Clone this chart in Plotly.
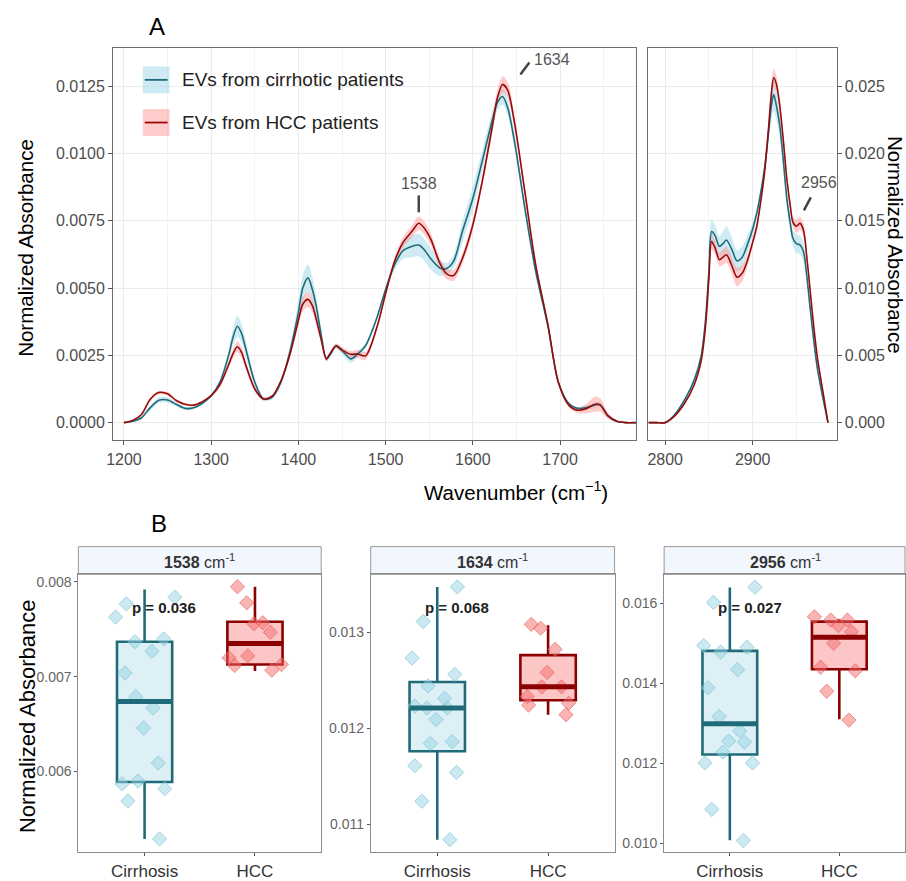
import numpy as np
import plotly.graph_objects as go

W, H = 906, 881
def fx(p): return p / W
def fy(p): return 1 - p / H

FONT = "Liberation Sans, Arial, sans-serif"

# ---------------- Panel A data: mean spectra and SD (fingerprint region) ----------------
wn_fp = [1200, 1210, 1220, 1230, 1240, 1250, 1260, 1270, 1280, 1290,
         1300, 1310, 1320, 1325, 1330, 1335, 1340, 1350, 1360, 1370,
         1380, 1390, 1400, 1405, 1411, 1416, 1420, 1426, 1432, 1437,
         1443, 1450, 1460, 1468, 1477, 1490, 1500, 1510, 1520, 1530,
         1538, 1545, 1552, 1562, 1570, 1578, 1588, 1600, 1611, 1622,
         1628, 1634, 1640, 1648, 1660, 1672, 1686, 1698, 1710, 1720,
         1730, 1740, 1746, 1755, 1765, 1775, 1787]
cir_fp_mean = [0, 0.00005, 0.00018, 0.00055, 0.00083, 0.00084, 0.00068, 0.00053, 0.00055, 0.00072,
               0.00100, 0.00150, 0.00250, 0.00317, 0.00358, 0.00330, 0.00270, 0.00150, 0.00088, 0.00095,
               0.00150, 0.00260, 0.00410, 0.00500, 0.00538, 0.00495, 0.00440, 0.00329, 0.00237, 0.00256,
               0.00285, 0.00268, 0.00237, 0.00255, 0.00286, 0.00390, 0.00495, 0.00585, 0.00639, 0.00655,
               0.00660, 0.00640, 0.00608, 0.00575, 0.00573, 0.00600, 0.00710, 0.00833, 0.00975, 0.01120,
               0.01188, 0.01212, 0.01170, 0.01040, 0.00790, 0.00563, 0.00360, 0.00150, 0.00071, 0.00053,
               0.00056, 0.00066, 0.00066, 0.00025, 0.00005, 0, 0]
hcc_fp_mean = [0, 0.00008, 0.00030, 0.00086, 0.00112, 0.00107, 0.00082, 0.00068, 0.00065, 0.00078,
               0.00100, 0.00140, 0.00215, 0.00256, 0.00282, 0.00260, 0.00210, 0.00125, 0.00088, 0.00098,
               0.00155, 0.00250, 0.00380, 0.00440, 0.00458, 0.00435, 0.00390, 0.00310, 0.00237, 0.00260,
               0.00285, 0.00270, 0.00254, 0.00255, 0.00248, 0.00354, 0.00480, 0.00597, 0.00670, 0.00710,
               0.00741, 0.00720, 0.00680, 0.00594, 0.00553, 0.00547, 0.00610, 0.00735, 0.00900, 0.01095,
               0.01205, 0.01257, 0.01235, 0.01110, 0.00850, 0.00587, 0.00365, 0.00150, 0.00065, 0.00046,
               0.00052, 0.00068, 0.00066, 0.00025, 0.00005, 0, 0]
cir_fp_sd = [0, 0.00003, 0.00006, 0.0001, 0.0001, 0.0001, 0.00008, 0.00006, 0.00005, 0.00005,
             0.00006, 0.0001, 0.0002, 0.0003, 0.0004, 0.00035, 0.0003, 0.00015, 0.00008, 0.00008,
             0.0001, 0.0002, 0.0004, 0.0005, 0.0005, 0.00045, 0.0004, 0.0002, 0.0001, 0.0001,
             0.0001, 0.00012, 0.00015, 0.00012, 0.0001, 0.0001, 0.00012, 0.0002, 0.0003, 0.0004,
             0.00042, 0.0004, 0.0004, 0.0003, 0.0002, 0.00025, 0.0004, 0.00045, 0.0004, 0.00035,
             0.0003, 0.0003, 0.0003, 0.00025, 0.0002, 0.00015, 0.0001, 0.00008, 0.00005, 0.00005,
             0.00008, 0.0001, 0.0001, 0.00006, 0.00003, 0, 0]
hcc_fp_sd = [0, 0.00003, 0.00005, 0.00006, 0.00006, 0.00006, 0.00005, 0.00004, 0.00004, 0.00004,
             0.00005, 0.00008, 0.00012, 0.00018, 0.0002, 0.0002, 0.00015, 0.0001, 0.00006, 0.00006,
             0.00008, 0.00012, 0.0002, 0.00025, 0.00028, 0.00025, 0.0002, 0.00012, 0.00008, 0.00008,
             0.00008, 0.0001, 0.00012, 0.00015, 0.00015, 0.00012, 0.0001, 0.00015, 0.0002, 0.00022,
             0.00025, 0.00025, 0.00022, 0.0002, 0.0002, 0.0002, 0.0002, 0.0002, 0.0002, 0.00025,
             0.0003, 0.0003, 0.0003, 0.00025, 0.0002, 0.00015, 0.0001, 0.00008, 0.00008, 0.0001,
             0.00018, 0.00028, 0.00025, 0.00012, 0.00004, 0, 0]

# ---------------- Panel A data: C-H stretching region ----------------
wn_ch = [2781, 2790, 2800, 2810, 2822, 2833, 2841, 2846, 2850, 2853,
         2857, 2862, 2866, 2870, 2876, 2882, 2888, 2894, 2900, 2905,
         2910, 2914, 2918, 2921, 2924, 2927, 2931, 2935, 2939, 2943,
         2946, 2950, 2954, 2958, 2962, 2966, 2970, 2974, 2980, 2986]
cir_ch_mean = [0, 0, 0, 0.00053, 0.00167, 0.00314, 0.00490, 0.00756, 0.01125, 0.01420,
               0.01390, 0.01310, 0.01330, 0.01358, 0.01290, 0.01203, 0.01230, 0.01325, 0.01440, 0.01567,
               0.01740, 0.01911, 0.02150, 0.02340, 0.02439, 0.02360, 0.02205, 0.01950, 0.01665, 0.01480,
               0.01370, 0.01330, 0.01321, 0.01272, 0.01080, 0.00830, 0.00600, 0.00400, 0.00192, 0]
hcc_ch_mean = [0, 0, 0, 0.00044, 0.00142, 0.00278, 0.00455, 0.00707, 0.01076, 0.01346,
               0.01300, 0.01211, 0.01230, 0.01248, 0.01170, 0.01081, 0.01110, 0.01205, 0.01340, 0.01469,
               0.01680, 0.01886, 0.02180, 0.02420, 0.02565, 0.02520, 0.02353, 0.02100, 0.01813, 0.01610,
               0.01490, 0.01460, 0.01481, 0.01432, 0.01220, 0.00960, 0.00700, 0.00480, 0.00241, 0]
cir_ch_sd = [0, 0, 0, 0.00005, 0.0001, 0.00015, 0.0002, 0.0003, 0.0006, 0.0009,
             0.0008, 0.0007, 0.0009, 0.001, 0.0009, 0.0008, 0.0008, 0.0007, 0.0005, 0.0004,
             0.0004, 0.0005, 0.0008, 0.0011, 0.0012, 0.0011, 0.0009, 0.0007, 0.0006, 0.0006,
             0.0006, 0.0007, 0.0007, 0.0007, 0.0005, 0.0004, 0.0003, 0.0002, 0.0001, 0]
hcc_ch_sd = [0, 0, 0, 0.00004, 0.00008, 0.0001, 0.00015, 0.0002, 0.0004, 0.0006,
             0.0005, 0.0005, 0.0006, 0.0006, 0.0006, 0.0007, 0.0006, 0.0004, 0.0003, 0.0003,
             0.0003, 0.0004, 0.0005, 0.0006, 0.0007, 0.0006, 0.0005, 0.0004, 0.0004, 0.0004,
             0.0004, 0.0005, 0.0005, 0.0005, 0.0004, 0.0003, 0.0002, 0.00015, 0.0001, 0]

legend_labels = ["EVs from cirrhotic patients", "EVs from HCC patients"]
peak_labels = ["1538", "1634", "2956"]

# ---------------- Panel B data ----------------
groups = ["Cirrhosis", "HCC"]
bands = ["1538", "1634", "2956"]
p_values = ["p = 0.036", "p = 0.068", "p = 0.027"]

cir_1538 = [0.00777, 0.00784, 0.00763, 0.00737, 0.00740, 0.00727, 0.00704, 0.00679,
            0.00667, 0.00646, 0.00609, 0.00590, 0.00587, 0.00582, 0.00569, 0.00529]
hcc_1538 = [0.00795, 0.00778, 0.00756, 0.00747, 0.00757, 0.00720, 0.00722, 0.00713, 0.00707, 0.00712]
cir_1634 = [0.01347, 0.01311, 0.01273, 0.01256, 0.01244, 0.01231, 0.01223, 0.01221,
            0.01221, 0.01209, 0.01184, 0.01186, 0.01161, 0.01154, 0.01124, 0.01084]
hcc_1634 = [0.01304, 0.01308, 0.01282, 0.01258, 0.01243, 0.01243, 0.01233, 0.01224, 0.01226, 0.01214]
cir_2956 = [0.01640, 0.01602, 0.01494, 0.01490, 0.01478, 0.01434, 0.01389, 0.01317,
            0.01281, 0.01256, 0.01253, 0.01228, 0.01201, 0.01201, 0.01085, 0.01007]
hcc_2956 = [0.01529, 0.01558, 0.01566, 0.01544, 0.01558, 0.01500, 0.01440, 0.01431, 0.01380, 0.01308]

# box statistics [Cirrhosis, HCC] per band
box_lower = {"1538": [0.00529, 0.00706], "1634": [0.01084, 0.01214], "2956": [0.01008, 0.01310]}
box_q1 = {"1538": [0.00589, 0.00713], "1634": [0.01176, 0.01229], "2956": [0.01222, 0.01435]}
box_med = {"1538": [0.00674, 0.00735], "1634": [0.01221, 0.01243], "2956": [0.01299, 0.01515]}
box_q3 = {"1538": [0.00737, 0.00758], "1634": [0.01248, 0.01276], "2956": [0.01481, 0.01554]}
box_upper = {"1538": [0.00792, 0.00795], "1634": [0.01347, 0.01307], "2956": [0.01639, 0.01560]}
points = {"1538": [cir_1538, hcc_1538], "1634": [cir_1634, hcc_1634], "2956": [cir_2956, hcc_2956]}

# ---------------- styles ----------------
CIR_LINE = "#1f6b7a"
HCC_LINE = "#980b0b"
CIR_RIB = "rgba(173,222,235,0.6)"
HCC_RIB = "rgba(255,140,140,0.45)"
CIR_BOX_FILL = "#dcf0f6"
HCC_BOX_FILL = "#fcc6c6"
CIR_PT = "rgba(150,212,226,0.5)"
CIR_PT_LINE = "rgba(120,190,208,0.6)"
HCC_PT = "rgba(245,105,105,0.5)"
HCC_PT_LINE = "rgba(230,90,90,0.6)"

fig = go.Figure()

def ribbon(x, mean, sd, color, xa, ya):
    m = np.array(mean); s = np.array(sd)
    fig.add_trace(go.Scatter(x=x, y=m + s, mode="lines", line=dict(width=0, shape="spline", smoothing=0.8),
                             xaxis=xa, yaxis=ya, showlegend=False, hoverinfo="skip"))
    fig.add_trace(go.Scatter(x=x, y=m - s, mode="lines", line=dict(width=0, shape="spline", smoothing=0.8),
                             fill="tonexty", fillcolor=color, xaxis=xa, yaxis=ya,
                             showlegend=False, hoverinfo="skip"))

def meanline(x, mean, color, xa, ya):
    fig.add_trace(go.Scatter(x=x, y=mean, mode="lines", line=dict(width=1.6, color=color, shape="spline", smoothing=0.8),
                             xaxis=xa, yaxis=ya, showlegend=False))

ribbon(wn_fp, cir_fp_mean, cir_fp_sd, CIR_RIB, "x", "y")
ribbon(wn_fp, hcc_fp_mean, hcc_fp_sd, HCC_RIB, "x", "y")
meanline(wn_fp, cir_fp_mean, CIR_LINE, "x", "y")
meanline(wn_fp, hcc_fp_mean, HCC_LINE, "x", "y")
ribbon(wn_ch, cir_ch_mean, cir_ch_sd, CIR_RIB, "x2", "y2")
ribbon(wn_ch, hcc_ch_mean, hcc_ch_sd, HCC_RIB, "x2", "y2")
meanline(wn_ch, cir_ch_mean, CIR_LINE, "x2", "y2")
meanline(wn_ch, hcc_ch_mean, HCC_LINE, "x2", "y2")

# ---------------- Box plots ----------------
shapes = []
box_cols = [(CIR_LINE, CIR_BOX_FILL, CIR_PT, CIR_PT_LINE), ("#8b0000", HCC_BOX_FILL, HCC_PT, HCC_PT_LINE)]
for bi, band in enumerate(bands):
    xa = "x%d" % (bi + 3); ya = "y%d" % (bi + 3)
    for gi, g in enumerate(groups):
        lc, fc, pc, plc = box_cols[gi]
        fig.add_trace(go.Box(x=[g], q1=[box_q1[band][gi]], median=[box_med[band][gi]],
                             q3=[box_q3[band][gi]], lowerfence=[box_lower[band][gi]],
                             upperfence=[box_upper[band][gi]], width=0.5, whiskerwidth=0,
                             line=dict(color=lc, width=2.6), fillcolor=fc, boxpoints=False,
                             xaxis=xa, yaxis=ya, showlegend=False, hoverinfo="skip"))
        shapes.append(dict(type="line", xref=xa, yref=ya, x0=gi - 0.25, x1=gi + 0.25,
                           y0=box_med[band][gi], y1=box_med[band][gi],
                           line=dict(color=lc, width=5), layer="above"))
    for gi, g in enumerate(groups):
        lc, fc, pc, plc = box_cols[gi]
        vals = points[band][gi]
        fig.add_trace(go.Box(x=[g] * len(vals), y=vals, boxpoints="all", jitter=1, pointpos=0,
                             width=0.62, line=dict(width=0, color="rgba(0,0,0,0)"),
                             fillcolor="rgba(0,0,0,0)",
                             marker=dict(symbol="diamond", size=11, color=pc, line=dict(color=plc, width=1)),
                             xaxis=xa, yaxis=ya, showlegend=False, hoverinfo="skip"))

# ---------------- Layout ----------------
TICKF = dict(family=FONT, size=16, color="#4d4d4d")
top_common = dict(showline=True, mirror=True, linecolor="#6e6e6e", linewidth=1, ticks="outside",
                  ticklen=4, tickcolor="#555", showgrid=True, gridcolor="#ebebeb", gridwidth=1,
                  zeroline=False, tickfont=TICKF)

y_top = [fy(444), fy(48)]
layout = dict(
    width=W, height=H, margin=dict(l=0, r=0, t=0, b=0),
    paper_bgcolor="white", plot_bgcolor="white", boxmode="overlay", showlegend=False,
    font=dict(family=FONT),
    xaxis=dict(domain=[fx(107), fx(635)], anchor="y", range=[1187.5, 1787.5], tick0=1200, dtick=100,
               minor=dict(dtick=50, showgrid=True, gridcolor="#f3f3f3", ticks=""), **top_common),
    yaxis=dict(domain=y_top, anchor="x", range=[-0.000664, 0.013938], tick0=0, dtick=0.0025,
               tickformat=".4f", **top_common),
    xaxis2=dict(domain=[fx(647), fx(837)], anchor="y2", range=[2780.7, 2995.9], tick0=2800, dtick=100,
                minor=dict(dtick=50, showgrid=True, gridcolor="#f3f3f3", ticks=""), **top_common),
    yaxis2=dict(domain=y_top, anchor="x2", side="right", range=[-0.001327, 0.027876], tick0=0, dtick=0.005,
                tickformat=".3f", **top_common),
)

bot_common = dict(showline=True, mirror=True, linecolor="#8c8c8c", linewidth=1, ticks="outside",
                  ticklen=3, tickcolor="#555", showgrid=False, zeroline=False)
panels_x = [(72, 317), (367, 613), (663, 908)]
y_ranges = [[0.00515, 0.00808], [0.01071, 0.0136], [0.00978, 0.01672]]
y_dticks = [0.001, 0.001, 0.002]
y_bot = [fy(859), fy(579)]
for bi in range(3):
    n = bi + 3
    x0, x1 = panels_x[bi]
    layout["xaxis%d" % n] = dict(domain=[fx(x0), min(1.0, fx(x1))], anchor="y%d" % n, type="category",
                                 categoryorder="array", categoryarray=groups, range=[-0.6, 1.6],
                                 tickfont=dict(family=FONT, size=17, color="#333"), **bot_common)
    layout["yaxis%d" % n] = dict(domain=y_bot, anchor="x%d" % n, range=y_ranges[bi], dtick=y_dticks[bi],
                                 tickformat=".3f", tickfont=dict(family=FONT, size=14, color="#666"),
                                 **bot_common)
    shapes.append(dict(type="rect", xref="paper", yref="paper", x0=fx(x0), x1=min(1.0, fx(x1)),
                       y0=fy(579), y1=fy(551), fillcolor="#f2f7fd", line=dict(color="#999", width=1),
                       layer="below"))

def ann(**kw):
    base = dict(showarrow=False, xanchor="center", yanchor="middle")
    base.update(kw)
    return base

annotations = []
for bi in range(3):
    x0, x1 = panels_x[bi]
    cx = (x0 + x1) / 2
    annotations.append(ann(xref="paper", yref="paper", x=fx(cx), y=fy(565),
                           text="<b>%s</b> cm<sup>-1</sup>" % bands[bi],
                           font=dict(family=FONT, size=16, color="#333")))
    annotations.append(ann(xref="x%d" % (bi + 3), yref="paper", x=0.18, y=fy(612),
                           text="<b>%s</b>" % p_values[bi],
                           font=dict(family=FONT, size=15, color="#222")))

annotations += [
    ann(xref="paper", yref="paper", x=fx(151), y=fy(27), text="A",
        font=dict(family=FONT, size=24, color="black")),
    ann(xref="paper", yref="paper", x=fx(153), y=fy(528), text="B",
        font=dict(family=FONT, size=24, color="black")),
    ann(xref="paper", yref="paper", x=fx(18), y=fy(250), text="Normalized Absorbance", textangle=-90,
        font=dict(family=FONT, size=20.5, color="black")),
    ann(xref="paper", yref="paper", x=fx(897), y=fy(247), text="Normalized Absorbance", textangle=90,
        font=dict(family=FONT, size=20.5, color="black")),
    ann(xref="paper", yref="paper", x=fx(514), y=fy(495), text="Wavenumber (cm<sup>−1</sup>)",
        font=dict(family=FONT, size=20.5, color="black")),
    ann(xref="paper", yref="paper", x=fx(20), y=fy(722), text="Normalized Absorbance", textangle=-90,
        font=dict(family=FONT, size=22, color="black")),
]

PK = dict(family=FONT, size=16, color="#555")
annotations += [
    ann(xref="x", yref="paper", x=1538, y=fy(185), text=peak_labels[0], font=PK),
    ann(xref="paper", yref="paper", x=fx(530), y=fy(60), text=peak_labels[1], font=PK, xanchor="left"),
    ann(xref="paper", yref="paper", x=fx(799), y=fy(184), text=peak_labels[2], font=PK, xanchor="left"),
]
shapes += [
    dict(type="line", xref="x", yref="paper", x0=1538, x1=1538, y0=fy(197), y1=fy(214),
         line=dict(color="#444", width=2.5)),
    dict(type="line", xref="paper", yref="paper", x0=fx(518), x1=fx(527), y0=fy(75), y1=fy(63),
         line=dict(color="#444", width=2.5)),
    dict(type="line", xref="paper", yref="paper", x0=fx(804), x1=fx(811), y0=fy(212), y1=fy(199),
         line=dict(color="#444", width=2.5)),
]

# manual legend
leg_items = [(CIR_RIB, CIR_LINE, 80.5), (HCC_RIB, HCC_LINE, 123.5)]
for i, (rib, lc, yc) in enumerate(leg_items):
    shapes.append(dict(type="rect", xref="paper", yref="paper", x0=fx(137), x1=fx(164),
                       y0=fy(yc + 13.5), y1=fy(yc - 13.5), fillcolor=rib, line=dict(width=0)))
    shapes.append(dict(type="line", xref="paper", yref="paper", x0=fx(139), x1=fx(162),
                       y0=fy(yc), y1=fy(yc), line=dict(color=lc, width=1.8)))
    annotations.append(ann(xref="paper", yref="paper", x=fx(175), y=fy(yc), text=legend_labels[i],
                           xanchor="left", font=dict(family=FONT, size=19, color="#222")))

layout["shapes"] = shapes
layout["annotations"] = annotations
fig.update_layout(**layout)
fig.write_html("out.html", config={"displayModeBar": False},
               post_script="document.body.style.margin='0px';document.body.style.overflow='hidden';")
